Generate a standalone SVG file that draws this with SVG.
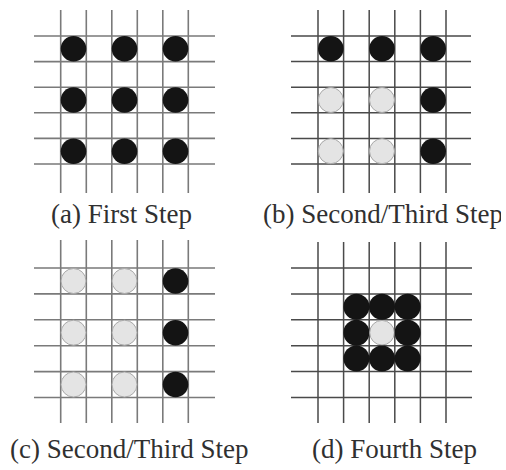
<svg xmlns="http://www.w3.org/2000/svg" width="506" height="470" viewBox="0 0 506 470">
  <style>
    .gl { stroke: #7a7a7a; stroke-width: 1.6; fill: none; }
    .gd { stroke: #4a4a4a; stroke-width: 1.5; fill: none; }
    .bk { fill: #141414; }
    .lt { fill: #e4e4e4; stroke: #a8a8a8; stroke-width: 1; }
    .lbl { font-family: "Liberation Serif", "Times New Roman", serif; font-size: 27px; fill: #303030; }
  </style>
  <defs>
    <clipPath id="clipB"><rect x="253" y="195" width="248" height="40"/></clipPath>
  </defs>
  <rect width="506" height="470" fill="#ffffff"/>

  <g id="panel-a">
    <path class="gl" d="M60.7 10V193M86.3 10V193M111.8 10V193M137.3 10V193M162.8 10V193M188.3 10V193M34 36H215M34 61.6H215M34 87.2H215M34 112.8H215M34 138.4H215M34 164H215"/>
    <circle class="bk" cx="73.5" cy="48.8" r="12.8"/>
    <circle class="bk" cx="124.5" cy="48.8" r="12.8"/>
    <circle class="bk" cx="175.5" cy="48.8" r="12.8"/>
    <circle class="bk" cx="73.5" cy="100" r="12.8"/>
    <circle class="bk" cx="124.5" cy="100" r="12.8"/>
    <circle class="bk" cx="175.5" cy="100" r="12.8"/>
    <circle class="bk" cx="73.5" cy="151.2" r="12.8"/>
    <circle class="bk" cx="124.5" cy="151.2" r="12.8"/>
    <circle class="bk" cx="175.5" cy="151.2" r="12.8"/>
    <text class="lbl" x="51" y="223">(a) First Step</text>
  </g>

  <g id="panel-b">
    <path class="gd" d="M318 10V193M343.6 10V193M369.2 10V193M394.8 10V193M420.4 10V193M446 10V193M291 36H471M291 61.6H471M291 87.2H471M291 112.8H471M291 138.4H471M291 164H471"/>
    <circle class="bk" cx="330.8" cy="48.8" r="12.8"/>
    <circle class="bk" cx="382" cy="48.8" r="12.8"/>
    <circle class="bk" cx="433.2" cy="48.8" r="12.8"/>
    <circle class="lt" cx="330.8" cy="100" r="12.5"/>
    <circle class="lt" cx="382" cy="100" r="12.5"/>
    <circle class="bk" cx="433.2" cy="100" r="12.8"/>
    <circle class="lt" cx="330.8" cy="151.2" r="12.5"/>
    <circle class="lt" cx="382" cy="151.2" r="12.5"/>
    <circle class="bk" cx="433.2" cy="151.2" r="12.8"/>
    <text class="lbl" x="263" y="223" clip-path="url(#clipB)">(b) Second/Third Step</text>
  </g>

  <g id="panel-c">
    <path class="gl" d="M60.7 240V423M86.3 240V423M111.8 240V423M137.3 240V423M162.8 240V423M188.3 240V423M34 268H215M34 293.9H215M34 319.8H215M34 345.7H215M34 371.6H215M34 397.5H215"/>
    <circle class="lt" cx="73.5" cy="281" r="12.5"/>
    <circle class="lt" cx="124.5" cy="281" r="12.5"/>
    <circle class="bk" cx="175.5" cy="281" r="12.8"/>
    <circle class="lt" cx="73.5" cy="332.7" r="12.5"/>
    <circle class="lt" cx="124.5" cy="332.7" r="12.5"/>
    <circle class="bk" cx="175.5" cy="332.7" r="12.8"/>
    <circle class="lt" cx="73.5" cy="384.5" r="12.5"/>
    <circle class="lt" cx="124.5" cy="384.5" r="12.5"/>
    <circle class="bk" cx="175.5" cy="384.5" r="12.8"/>
    <text class="lbl" x="10" y="458">(c) Second/Third Step</text>
  </g>

  <g id="panel-d">
    <path class="gd" d="M318 242V423M343.6 242V423M369.2 242V423M394.8 242V423M420.4 242V423M446 242V423M291 268H472M291 293.9H472M291 319.8H472M291 345.7H472M291 371.6H472M291 397.5H472"/>
    <circle class="bk" cx="356.4" cy="306.8" r="13"/>
    <circle class="bk" cx="382" cy="306.8" r="13"/>
    <circle class="bk" cx="407.6" cy="306.8" r="13"/>
    <circle class="bk" cx="356.4" cy="332.7" r="13"/>
    <circle class="lt" cx="382" cy="332.7" r="12.3" stroke="none"/>
    <circle class="bk" cx="407.6" cy="332.7" r="13"/>
    <circle class="bk" cx="356.4" cy="358.5" r="13"/>
    <circle class="bk" cx="382" cy="358.5" r="13"/>
    <circle class="bk" cx="407.6" cy="358.5" r="13"/>
    <text class="lbl" x="312" y="458">(d) Fourth Step</text>
  </g>
</svg>
